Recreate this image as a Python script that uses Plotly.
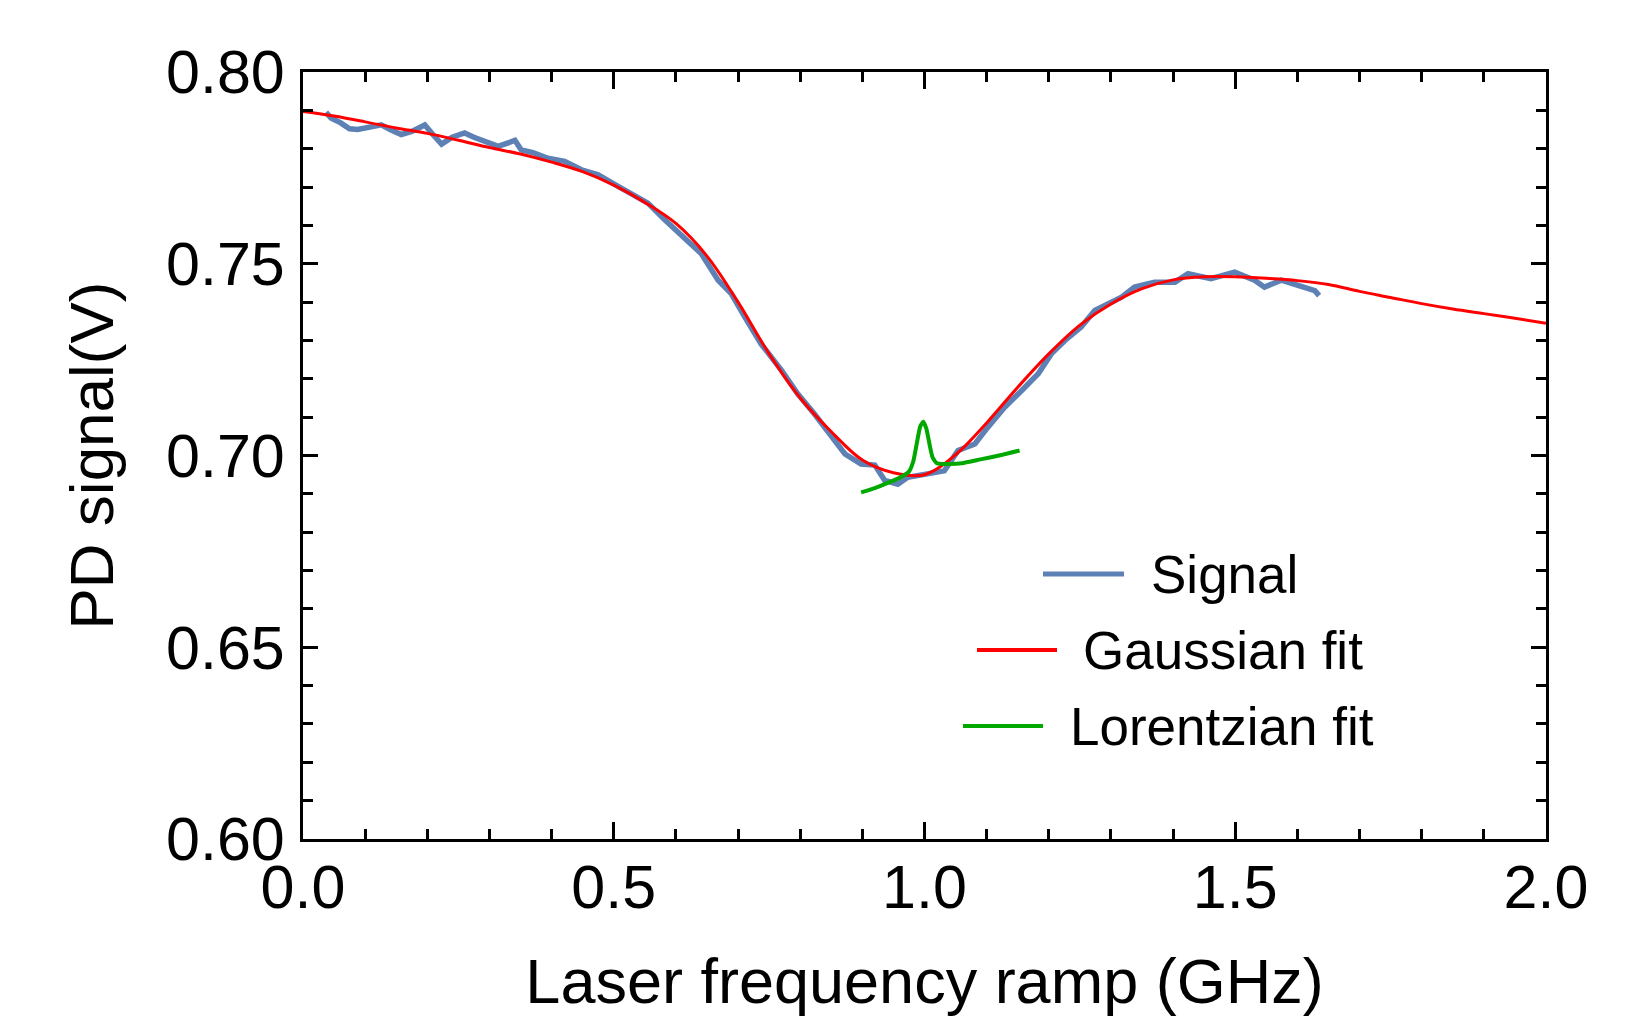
import plotly.graph_objects as go

# ---------------- data ----------------
signal_x = [0.037, 0.045, 0.060, 0.075, 0.088, 0.105, 0.126, 0.140, 0.158, 0.175,
            0.196, 0.210, 0.223, 0.240, 0.260, 0.275, 0.292, 0.314, 0.330, 0.341,
            0.351, 0.370, 0.394, 0.421, 0.448, 0.475, 0.507, 0.528, 0.555, 0.582,
            0.603, 0.620, 0.641, 0.668, 0.689, 0.711, 0.737, 0.770, 0.796, 0.823,
            0.850, 0.872, 0.898, 0.920, 0.936, 0.957, 0.973, 1.000, 1.032, 1.054,
            1.081, 1.102, 1.129, 1.156, 1.183, 1.204, 1.226, 1.252, 1.274, 1.295,
            1.317, 1.338, 1.370, 1.403, 1.424, 1.461, 1.499, 1.531, 1.547, 1.574,
            1.606, 1.628, 1.635]
signal_y = [0.7895, 0.7880, 0.7868, 0.7852, 0.7850, 0.7855, 0.7862, 0.7850, 0.7837, 0.7845,
            0.7862, 0.7835, 0.7812, 0.7830, 0.7841, 0.7830, 0.7819, 0.7806, 0.7815, 0.7822,
            0.7797, 0.7790, 0.7775, 0.7767, 0.7745, 0.7732, 0.7702, 0.7684, 0.7658, 0.7615,
            0.7584, 0.7560, 0.7526, 0.7457, 0.7422, 0.7361, 0.7291, 0.7222, 0.7161, 0.7108,
            0.7048, 0.7004, 0.6978, 0.6975, 0.6935, 0.6925, 0.6943, 0.6950, 0.6960, 0.7013,
            0.7030, 0.7074, 0.7126, 0.7169, 0.7213, 0.7265, 0.7300, 0.7335, 0.7378, 0.7395,
            0.7413, 0.7439, 0.7452, 0.7452, 0.7474, 0.7461, 0.7478, 0.7457, 0.7439, 0.7457,
            0.7439, 0.7430, 0.7417]

gauss_x = [0.00, 0.05, 0.10, 0.15, 0.20, 0.25, 0.30, 0.35, 0.40, 0.45,
           0.50, 0.55, 0.60, 0.65, 0.70, 0.75, 0.80, 0.85, 0.90, 0.95,
           1.00, 1.05, 1.10, 1.15, 1.20, 1.25, 1.30, 1.35, 1.40, 1.45,
           1.50, 1.55, 1.60, 1.65, 1.70, 1.75, 1.80, 1.85, 1.90, 1.95, 2.00]
gauss_y = [0.7897, 0.7885, 0.7870, 0.7854, 0.7840, 0.7822, 0.7803, 0.7786, 0.7765, 0.7740,
           0.7705, 0.7660, 0.7605, 0.7520, 0.7400, 0.7265, 0.7150, 0.7062, 0.6988, 0.6955,
           0.6950, 0.7002, 0.7085, 0.7178, 0.7265, 0.7340, 0.7395, 0.7435, 0.7458, 0.7466,
           0.7466, 0.7462, 0.7456, 0.7446, 0.7428, 0.7412, 0.7396, 0.7382, 0.7370, 0.7358, 0.7345]

lorentz_x = [0.898, 0.920, 0.940, 0.960, 0.975, 0.982, 0.988, 0.993, 0.998, 1.003,
             1.008, 1.013, 1.020, 1.040, 1.060, 1.090, 1.120, 1.153]
lorentz_y = [0.6904, 0.6915, 0.6928, 0.6942, 0.6958, 0.6985, 0.7035, 0.7075, 0.7088, 0.7070,
             0.7030, 0.6995, 0.6980, 0.6978, 0.6980, 0.6990, 0.7000, 0.7013]

series_names = ["Signal", "Gaussian fit", "Lorentzian fit"]
series_colors = ["#5E81B5", "#FF0000", "#00A800"]

x_title = "Laser frequency ramp (GHz)"
y_title = "PD signal(V)"
x_tickvals = [0.0, 0.5, 1.0, 1.5, 2.0]
x_ticktext = ["0.0", "0.5", "1.0", "1.5", "2.0"]
y_tickvals = [0.60, 0.65, 0.70, 0.75, 0.80]
y_ticktext = ["0.60", "0.65", "0.70", "0.75", "0.80"]

# ---------------- figure ----------------
FONT = "Liberation Sans, Arial, sans-serif"
W, H = 1648, 1019
L, R, T, B = 295, 110, 64, 188

fig = go.Figure()
fig.add_trace(go.Scatter(x=signal_x, y=signal_y, mode="lines", name=series_names[0],
                         line=dict(color=series_colors[0], width=5.5), showlegend=False))
fig.add_trace(go.Scatter(x=gauss_x, y=gauss_y, mode="lines", name=series_names[1],
                         line=dict(color=series_colors[1], width=3, shape="spline"),
                         showlegend=False))
fig.add_trace(go.Scatter(x=lorentz_x, y=lorentz_y, mode="lines", name=series_names[2],
                         line=dict(color=series_colors[2], width=4, shape="spline",
                                   smoothing=0.5),
                         showlegend=False))

axis_common = dict(showgrid=False, zeroline=False, showline=True, linecolor="black",
                   linewidth=3, mirror="ticks", ticks="inside", tickcolor="black",
                   tickwidth=3, tickfont=dict(family=FONT, size=61, color="black"))

fig.update_xaxes(range=[0, 2], tickvals=x_tickvals, ticktext=x_ticktext, ticklen=17,
                 ticklabelstandoff=-7,
                 minor=dict(dtick=0.1, tick0=0, ticks="inside", ticklen=10, tickwidth=3,
                            tickcolor="black"),
                 title=dict(text=x_title, font=dict(family=FONT, size=63, color="black"),
                            standoff=39),
                 **axis_common)
fig.update_yaxes(range=[0.60, 0.80], tickvals=y_tickvals, ticktext=y_ticktext, ticklen=15,
                 ticklabelstandoff=3,
                 minor=dict(dtick=0.01, tick0=0.60, ticks="inside", ticklen=10, tickwidth=3,
                            tickcolor="black"),
                 title=dict(text=y_title, font=dict(family=FONT, size=62, color="black"),
                            standoff=33),
                 **axis_common)

# legend drawn inside the plot (centred items, as in the reference)
pw, ph = W - L - R, H - T - B
def px_to_paper_x(px):
    return (px - L) / pw
def px_to_paper_y(py):
    return (H - B - py) / ph

legend_rows = [  # line start, line end, text start, row centre (pixels)
    (1035, 1116, 1141, 566),
    (969, 1049, 1073, 642),
    (955, 1035, 1060, 718),
]
for (lx0, lx1, tx, ly), name, col in zip(legend_rows, series_names, series_colors):
    fig.add_shape(type="line", xref="paper", yref="paper",
                  x0=px_to_paper_x(lx0), x1=px_to_paper_x(lx1),
                  y0=px_to_paper_y(ly), y1=px_to_paper_y(ly),
                  line=dict(color=col, width=5 if name == "Signal" else 4))
    fig.add_annotation(xref="paper", yref="paper", x=px_to_paper_x(tx), y=px_to_paper_y(ly),
                       xanchor="left", yanchor="middle", showarrow=False, text=name,
                       font=dict(family=FONT, size=53, color="black"))

fig.update_layout(width=W, height=H, margin=dict(l=L, r=R, t=T, b=B, autoexpand=False),
                  paper_bgcolor="white", plot_bgcolor="white", showlegend=False)

fig.write_html("out.html")
